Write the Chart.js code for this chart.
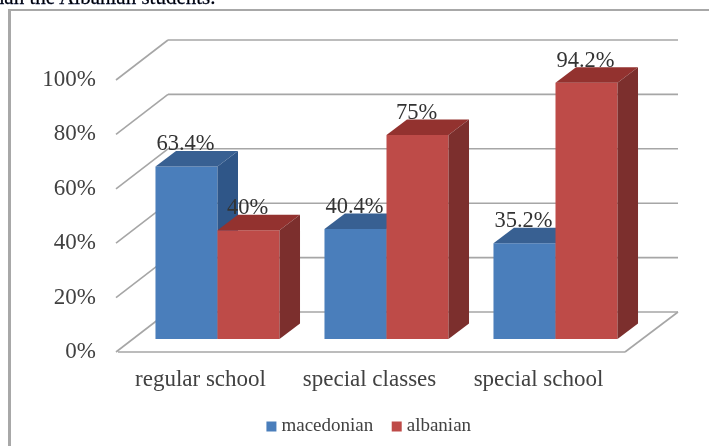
<!DOCTYPE html>
<html>
<head>
<meta charset="UTF-8">
<title>School placement</title>
<script src="https://cdn.jsdelivr.net/npm/chart.js@4/dist/chart.umd.min.js"></script>
<style>
  html, body { margin:0; padding:0; background:#fff; overflow:hidden; }
  #page { position:absolute; left:0; top:0; width:709px; height:446px; overflow:hidden; filter:blur(0.7px); }
  #frame { position:absolute; left:8px; top:9px; width:720px; height:460px; border-left:3px solid #a8a8a8; border-top:2px solid #a8a8a8; }
  #caption { position:absolute; left:-12px; top:-15px; font:21px "Liberation Serif", serif; color:#000; white-space:nowrap; -webkit-text-stroke:.3px #001040; }
  canvas { position:absolute; left:0; top:0; }
</style>
</head>
<body>
<div id="page">
  <div id="frame"></div>
  <div id="caption">than the Albanian students.</div>
  <canvas id="chart" width="709" height="446"></canvas>
</div>
<script>
const categories = ['regular school', 'special classes', 'special school'];
const macedonian = [63.4, 40.4, 35.2];
const albanian = [40, 75, 94.2];
const valueLabels = [['63.4%', '40.4%', '35.2%'], ['40%', '75%', '94.2%']];

const SERIF = '"Liberation Serif", serif';
const TEXT = '#414141';
const GRID = '#a6a6a6';

// pseudo 3d offsets
const WALL_DX = 50, WALL_DY = -40;
const PLANE_DX = 15, PLANE_DY = -13;
const BAR_DX = 20.5, BAR_DY = -15.5;

const shades = [
  { top: '#386092', side: '#2f5688' },
  { top: '#93322f', side: '#7c2f2d' }
];

function line(ctx, x1, y1, x2, y2) {
  ctx.beginPath();
  ctx.moveTo(x1, y1);
  ctx.lineTo(x2, y2);
  ctx.stroke();
}

function poly(ctx, pts, fill) {
  ctx.fillStyle = fill;
  ctx.beginPath();
  pts.forEach((p, i) => i ? ctx.lineTo(p[0], p[1]) : ctx.moveTo(p[0], p[1]));
  ctx.closePath();
  ctx.fill();
}

const bars3d = {
  id: 'bars3d',
  afterLayout(chart) {
    // legend sits right of the canvas centre in the original
    const lg = chart.legend;
    lg.left = 371 - 200;
    lg.right = 371 + 200;
    lg.top = 394;
  },
  beforeDatasetsDraw(chart) {
    const { ctx, chartArea: a, scales: { y } } = chart;
    ctx.save();
    ctx.strokeStyle = GRID;
    ctx.lineWidth = 1.6;
    y.ticks.forEach(t => {
      const py = y.getPixelForValue(t.value);
      line(ctx, a.left - 2, py, a.left + WALL_DX, py + WALL_DY);
      line(ctx, a.left + WALL_DX, py + WALL_DY, a.right + WALL_DX + 3, py + WALL_DY);
    });
    // floor
    line(ctx, a.left, a.bottom, a.right, a.bottom);
    line(ctx, a.right, a.bottom, a.right + WALL_DX + 3, a.bottom + WALL_DY);
    ctx.restore();
  },
  // skip the default pass, it paints dataset 0 last and blue would cover the red tops
  beforeDatasetDraw() {
    return false;
  },
  afterDatasetsDraw(chart) {
    const ctx = chart.ctx;
    chart.data.datasets.forEach((ds, i) => {
      const s = shades[i];
      ctx.save();
      ctx.translate(PLANE_DX, PLANE_DY);
      chart.getDatasetMeta(i).data.forEach(b => {
        const l = b.x - b.width / 2, r = b.x + b.width / 2;
        b.draw(ctx);
        poly(ctx, [[l, b.y], [r, b.y], [r + BAR_DX, b.y + BAR_DY], [l + BAR_DX, b.y + BAR_DY]], s.top);
        poly(ctx, [[r, b.y], [r + BAR_DX, b.y + BAR_DY], [r + BAR_DX, b.base + BAR_DY], [r, b.base]], s.side);
      });
      ctx.restore();
    });
  },
  afterDraw(chart) {
    const ctx = chart.ctx;
    ctx.save();
    ctx.font = '22.5px ' + SERIF;
    ctx.fillStyle = '#333';
    ctx.textAlign = 'center';
    ctx.textBaseline = 'middle';
    chart.data.datasets.forEach((ds, i) => {
      chart.getDatasetMeta(i).data.forEach((b, j) => {
        ctx.fillText(valueLabels[i][j], b.x + PLANE_DX - 1, b.y + PLANE_DY - 22);
      });
    });
    ctx.restore();
  }
};

new Chart(document.getElementById('chart'), {
  type: 'bar',
  data: {
    labels: categories,
    datasets: [
      { label: 'macedonian', data: macedonian, backgroundColor: '#4a7ebb', clip: false },
      { label: 'albanian', data: albanian, backgroundColor: '#be4b48', clip: false }
    ]
  },
  options: {
    responsive: false,
    animation: false,
    barPercentage: 1,
    categoryPercentage: 0.734,
    layout: { padding: { top: 80, right: 84, left: 0, bottom: 0 } },
    plugins: {
      tooltip: { enabled: false },
      legend: {
        position: 'bottom',
        labels: {
          usePointStyle: true, pointStyle: 'rect',
          boxWidth: 1, boxHeight: 10, padding: 23, color: TEXT,
          font: { family: SERIF, size: 19 }
        }
      }
    },
    scales: {
      x: {
        grid: { display: false },
        border: { display: false },
        ticks: { color: TEXT, padding: 6, labelOffset: -2, maxRotation: 0, autoSkip: false, font: { family: SERIF, size: 23 } },
        afterFit(scale) { scale.height = 446 - 352 - scale.chart.legend.height; }
      },
      y: {
        min: 0,
        max: 100,
        grid: { display: false },
        border: { display: false },
        ticks: { color: TEXT, padding: 14, stepSize: 20, callback: v => v + '%', font: { family: SERIF, size: 23 } },
        afterFit(scale) { scale.width = 118; }
      }
    }
  },
  plugins: [bars3d]
});
</script>
</body>
</html>
